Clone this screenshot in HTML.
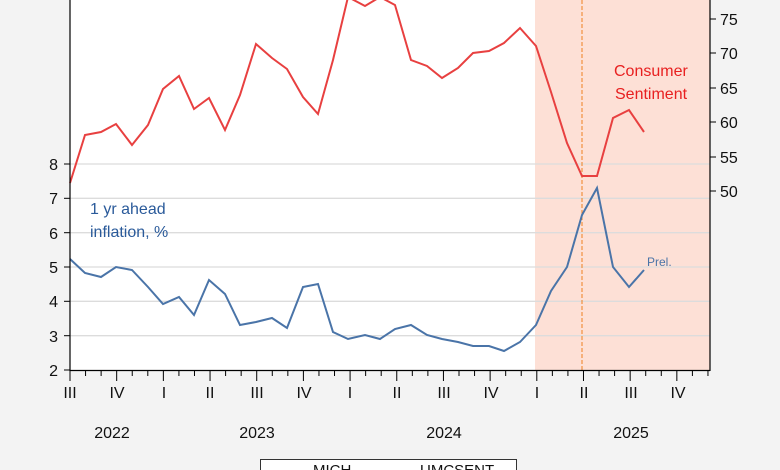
<!DOCTYPE html>
<html><head><meta charset="utf-8"><style>
body{margin:0;background:#f3f3f3;}
svg{display:block;font-family:"Liberation Sans",Arial,sans-serif;}
</style></head><body>
<svg width="780" height="470" viewBox="0 0 780 470" xmlns="http://www.w3.org/2000/svg">
<rect x="0" y="0" width="780" height="470" fill="#f3f3f3"/>
<rect x="70" y="0" width="640" height="370" fill="#fff"/>
<rect x="535" y="0" width="175" height="370" fill="#fde0d6"/>
<g stroke="#dcdcdc" stroke-width="1.3">
<line x1="70" y1="335.7" x2="710" y2="335.7"/><line x1="70" y1="301.3" x2="710" y2="301.3"/>
<line x1="70" y1="267" x2="710" y2="267"/><line x1="70" y1="232.7" x2="710" y2="232.7"/>
<line x1="70" y1="198.3" x2="710" y2="198.3"/><line x1="70" y1="164" x2="710" y2="164"/>
</g>
<line x1="582" y1="0" x2="582" y2="370" stroke="#f08020" stroke-width="1" stroke-dasharray="4,2"/>
<polyline fill="none" stroke="#e84040" stroke-width="2" points="70,183 85,135 101,132 116,124 132,145 148,125 163,89 179,76 194,109 209,98 225,130 240,95 256,44 272,58 287,69 303,97 318,114 333,60 348,-3 365,6 380,-3 395,5 411,60 427,66 442,78 458,68 473,53 489,51 504,43 520,28 536,46 551,92 567,143 582,176 597,176 613,118 629,110 644,132"/>
<polyline fill="none" stroke="#4a74a8" stroke-width="2" points="70,259 85,273 101,277 116,267 132,270 148,287 163,304 179,297 194,315 209,280 225,294 240,325 256,322 272,318 287,328 303,287 318,284 333,332 348,339 365,335 380,339 395,329 411,325 427,335 442,339 458,342 473,346 489,346 504,351 520,342 536,325 551,291 567,267 582,215 597,188 613,267 629,287 644,270"/>
<line x1="70" y1="0" x2="70" y2="371" stroke="#000" stroke-width="1.2"/>
<line x1="710" y1="0" x2="710" y2="371" stroke="#000" stroke-width="1.2"/>
<line x1="70" y1="370.5" x2="710" y2="370.5" stroke="#000" stroke-width="1.2"/>
<g stroke="#000" stroke-width="1">
<line x1="64" y1="370" x2="70" y2="370"/><line x1="64" y1="335.7" x2="70" y2="335.7"/><line x1="64" y1="301.3" x2="70" y2="301.3"/><line x1="64" y1="267" x2="70" y2="267"/><line x1="64" y1="232.7" x2="70" y2="232.7"/><line x1="64" y1="198.3" x2="70" y2="198.3"/><line x1="64" y1="164" x2="70" y2="164"/>
<line x1="710" y1="19" x2="716" y2="19"/><line x1="710" y1="53" x2="716" y2="53"/><line x1="710" y1="88" x2="716" y2="88"/><line x1="710" y1="122" x2="716" y2="122"/><line x1="710" y1="157" x2="716" y2="157"/><line x1="710" y1="191" x2="716" y2="191"/>
</g>
<g font-size="16" fill="#111" text-anchor="end">
<text x="58" y="376">2</text><text x="58" y="342">3</text><text x="58" y="307">4</text><text x="58" y="273">5</text><text x="58" y="239">6</text><text x="58" y="204">7</text><text x="58" y="170">8</text>
</g>
<g font-size="16" fill="#111">
<text x="720" y="25">75</text><text x="720" y="59">70</text><text x="720" y="94">65</text><text x="720" y="128">60</text><text x="720" y="163">55</text><text x="720" y="197">50</text>
</g>
<g stroke="#000" stroke-width="1" id="ticks"></g>
<g font-size="16" fill="#111" text-anchor="middle">
<text x="70" y="398">III</text><text x="117" y="398">IV</text><text x="164" y="398">I</text><text x="210" y="398">II</text><text x="257" y="398">III</text><text x="304" y="398">IV</text><text x="350" y="398">I</text><text x="397" y="398">II</text><text x="444" y="398">III</text><text x="491" y="398">IV</text><text x="537" y="398">I</text><text x="584" y="398">II</text><text x="631" y="398">III</text><text x="678" y="398">IV</text>
<text x="112" y="438">2022</text><text x="257" y="438">2023</text><text x="444" y="438">2024</text><text x="631" y="438">2025</text>
</g>
<text x="614" y="76" font-size="16" fill="#e82020">Consumer</text>
<text x="615" y="99" font-size="16" fill="#e82020">Sentiment</text>
<text x="90" y="214" font-size="16" fill="#2a5a9a">1 yr ahead</text>
<text x="90" y="237" font-size="16" fill="#2a5a9a">inflation, %</text>
<text x="647" y="266" font-size="12" fill="#4a74a8">Prel.</text>
<rect x="260.5" y="459.5" width="256" height="20" fill="#fff" stroke="#333"/>
<text x="313" y="475" font-size="15" fill="#111">MICH</text>
<text x="420" y="475" font-size="15" fill="#111">UMCSENT</text>
<script>
var g=document.getElementById('ticks');
for(var i=0;i<=41;i++){var x=70+i*15.56;var big=(i%3==0);var l=document.createElementNS('http://www.w3.org/2000/svg','line');l.setAttribute('x1',x);l.setAttribute('x2',x);l.setAttribute('y1',371);l.setAttribute('y2',big?381:376);g.appendChild(l);}
</script>
</svg>
</body></html>
